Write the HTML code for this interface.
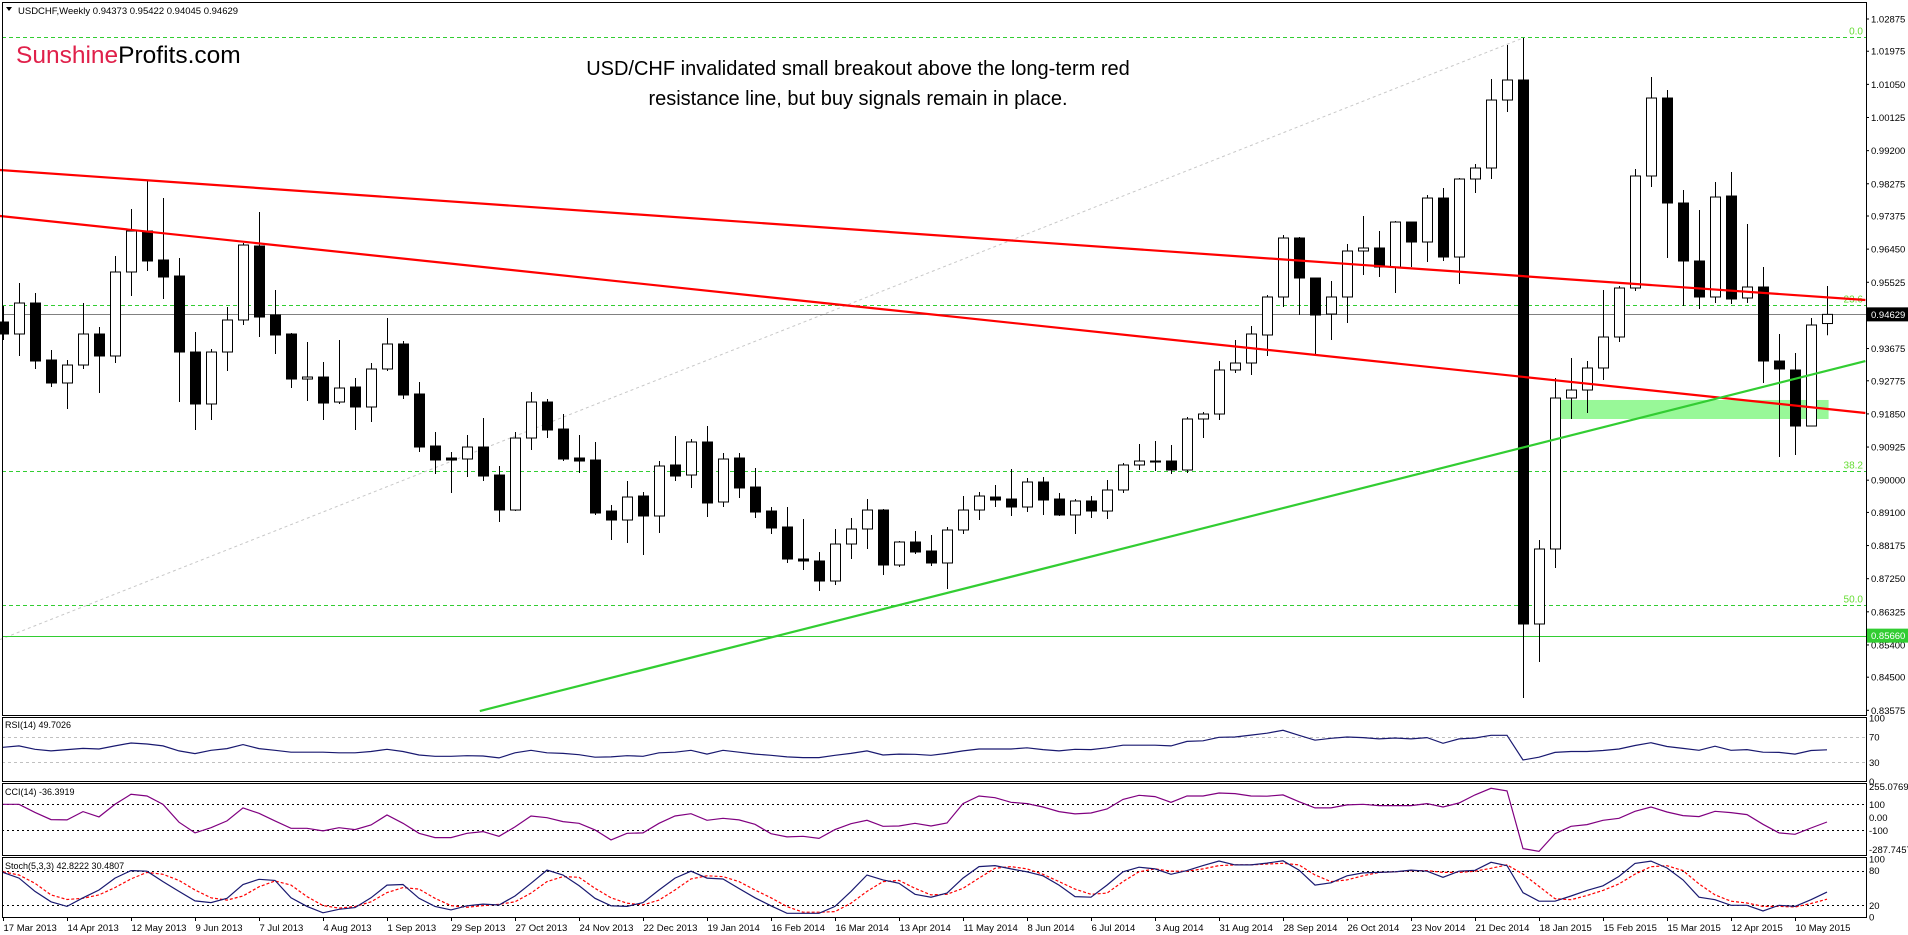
<!DOCTYPE html>
<html><head><meta charset="utf-8"><title>USDCHF Weekly</title>
<style>
html,body{margin:0;padding:0;background:#fff;}
svg{display:block;font-family:"Liberation Sans",Arial,sans-serif;}
</style></head>
<body>
<svg id="chart" width="1908" height="935" viewBox="0 0 1908 935" xmlns="http://www.w3.org/2000/svg">
  <rect x="0" y="0" width="1908" height="935" fill="#fff"/>
  <g id="gBack"></g>
  <g id="gCandles"></g>
  <g id="gFront"></g>
  <g id="gInd"></g>
  <g id="gAxes"></g>
  <text x="18" y="14" font-size="9.5" fill="#000">USDCHF,Weekly  0.94373 0.95422 0.94045 0.94629</text>
  <polygon points="6,7 12,7 9,11" fill="#000"/>
  <text x="16" y="63" font-size="24.5"><tspan fill="#e0204a">Sunshine</tspan><tspan fill="#000">Profits.com</tspan></text>
  <text x="858" y="75" font-size="20" text-anchor="middle" fill="#000">USD/CHF invalidated small breakout above the long-term red</text>
  <text x="858" y="105" font-size="20" text-anchor="middle" fill="#000">resistance line, but buy signals remain in place.</text>
</svg>
<script>
// ---- data ----
const opens = [0.94416,0.94081,0.94946,0.93355,0.92713,0.93215,0.94081,0.93467,0.95812,0.96956,0.96147,0.95700,0.93578,0.92127,0.93578,0.94472,0.96537,0.94611,0.94081,0.92824,0.92880,0.92182,0.92601,0.92043,0.93104,0.93802,0.92406,0.90954,0.90619,0.90591,0.90926,0.90144,0.89167,0.91177,0.92182,0.91428,0.90619,0.90563,0.89139,0.88888,0.89558,0.89000,0.90424,0.90144,0.91066,0.89391,0.90619,0.89809,0.89139,0.88693,0.87799,0.87744,0.87185,0.88218,0.88637,0.89167,0.87632,0.88274,0.88023,0.87688,0.88609,0.89167,0.89530,0.89474,0.89251,0.89949,0.89474,0.89028,0.89419,0.89139,0.89726,0.90424,0.90535,0.90535,0.90284,0.91708,0.91847,0.93076,0.93271,0.94053,0.95114,0.96761,0.95644,0.94639,0.95114,0.96398,0.96482,0.95951,0.97207,0.96649,0.97877,0.96230,0.98408,0.98715,1.00613,1.01172,0.85985,0.88079,0.92294,0.92517,0.93132,0.93997,0.95365,0.98492,1.00669,0.97738,0.96119,0.95114,0.97933,0.95086,0.95393,0.93327,0.93076,0.91512,0.94373];
const highs = [0.94862,0.95504,0.95225,0.93634,0.93355,0.94946,0.94276,0.96258,0.97570,0.98380,0.97877,0.96202,0.94137,0.93662,0.94834,0.96621,0.97487,0.95309,0.94109,0.93857,0.93299,0.93913,0.92852,0.93271,0.94527,0.93885,0.92741,0.91345,0.90786,0.91261,0.91736,0.90396,0.91345,0.92462,0.92266,0.91847,0.91261,0.91066,0.89307,0.89977,0.89670,0.90535,0.91233,0.91149,0.91512,0.90759,0.90759,0.90340,0.89251,0.89251,0.88916,0.87995,0.88637,0.88944,0.89474,0.89195,0.88302,0.88581,0.88469,0.88693,0.89558,0.89670,0.89865,0.90312,0.90061,0.90089,0.89642,0.89474,0.89558,0.90005,0.90479,0.91010,0.91094,0.90982,0.91764,0.91903,0.93327,0.93913,0.94304,0.95169,0.96845,0.96789,0.95644,0.95560,0.96593,0.97375,0.96956,0.97235,0.97207,0.97961,0.98157,0.98436,0.98827,1.01200,1.02149,1.02344,0.88330,0.92852,0.93411,0.93327,0.95309,0.95421,0.98687,1.01255,1.00892,0.98101,0.97542,0.98324,0.98603,0.97152,0.95951,0.94081,0.93550,0.94527,0.95422];
const lows = [0.93913,0.93467,0.93104,0.92601,0.91987,0.93104,0.92434,0.93271,0.95142,0.95839,0.95058,0.92182,0.91401,0.91680,0.93048,0.94332,0.93997,0.93522,0.92573,0.92210,0.91680,0.92127,0.91401,0.91624,0.93048,0.92266,0.90786,0.90172,0.89642,0.90089,0.89977,0.88832,0.89139,0.90842,0.91177,0.90535,0.90200,0.89028,0.88330,0.88246,0.87911,0.88525,0.89977,0.89782,0.88972,0.89251,0.89502,0.88944,0.88497,0.87688,0.87492,0.86906,0.87074,0.87799,0.88079,0.87353,0.87576,0.87939,0.87604,0.86962,0.88497,0.88888,0.89251,0.89000,0.89111,0.89028,0.89000,0.88497,0.88944,0.88916,0.89642,0.90284,0.90256,0.90172,0.90200,0.91177,0.91680,0.92992,0.92936,0.93467,0.94834,0.94611,0.93522,0.93913,0.94388,0.95728,0.95672,0.95225,0.95951,0.96091,0.96119,0.95477,0.98017,0.98408,1.00278,0.83919,0.84924,0.87548,0.91708,0.91875,0.92797,0.93857,0.95281,0.98185,0.96202,0.94862,0.94779,0.94946,0.94918,0.94946,0.92713,0.90647,0.90703,0.91512,0.94045];
const closes = [0.94081,0.94946,0.93327,0.92713,0.93215,0.94081,0.93467,0.95812,0.96956,0.96119,0.95672,0.93578,0.92127,0.93578,0.94472,0.96565,0.94555,0.94053,0.92824,0.92880,0.92154,0.92573,0.92043,0.93104,0.93802,0.92378,0.90926,0.90563,0.90563,0.90926,0.90116,0.89167,0.91177,0.92182,0.91401,0.90591,0.90535,0.89084,0.88888,0.89530,0.89000,0.90396,0.90116,0.91066,0.89363,0.90591,0.89782,0.89111,0.88665,0.87799,0.87744,0.87185,0.88218,0.88637,0.89167,0.87632,0.88274,0.87995,0.87688,0.88609,0.89167,0.89558,0.89446,0.89251,0.89949,0.89446,0.89028,0.89419,0.89139,0.89726,0.90424,0.90535,0.90507,0.90284,0.91708,0.91847,0.93076,0.93271,0.94081,0.95114,0.96761,0.95644,0.94611,0.95114,0.96398,0.96482,0.95951,0.97207,0.96649,0.97877,0.96230,0.98408,0.98715,1.00613,1.01172,0.85985,0.88079,0.92294,0.92517,0.93132,0.93997,0.95365,0.98492,1.00669,0.97738,0.96119,0.95114,0.97905,0.95058,0.95393,0.93327,0.93104,0.91512,0.94332,0.94629];
const rsiValues = [53.7,56,50.5,48,50,52,51,56,60.5,59,56,48,43.7,49,51.6,58,51.6,49,46,46,46,45,45,47,50.5,47,41.6,39.5,39.5,40.5,40,37,45,49,45,44,42,38,38.5,40.5,39.5,45,46,49,43,49,46,43,41,38.5,37.4,37.4,41,44,48,41.6,43,42.6,41,44,48,51,51,51,53,50,48,50.5,50,53,57,57,57,56,63,64,69.5,70,73,76,80.5,72.6,65,68,70,69,67,68.4,67,69,60,67,68.4,72.6,72.6,33.6,38,45.6,47,47,48.7,51,56.5,61,55,52,49,55.5,49,50,46,45.6,43,48.7,49.7];
const cciValues = [100,100,38,-18,-20,44,3,100,177,164,100,-38,-120,-80,-28,72,31,-28,-85,-85,-105,-80,-95,-59,18,-46,-123,-156,-156,-123,-110,-146,-74,10,-3,-33,-46,-97,-174,-123,-120,-46,10,28,-23,-8,-20,-54,-126,-151,-146,-162,-95,-49,-23,-69,-67,-46,-67,-44,105,164,151,115,105,79,44,26,33,64,138,169,159,115,164,164,187,182,164,162,172,120,72,72,95,100,90,90,90,105,79,110,172,223,203,-241,-262,-126,-69,-56,-23,-8,46,79,41,13,5,46,36,21,-54,-120,-131,-82,-36.4];
const stochMain = [77,67,44,26,18,33,46.5,67,80,79,61,44,27.5,24.6,32,56,65,63,33,18,7,13,16,33,55,56,32,18,12,19,22,20.5,36,58,81,72.5,54,32,19,18,24.6,46.5,67,79,67,65.5,49,33,19,6,6,6,18,44,72.5,64,58,39,34,41,67,87,88.7,83,78,71,55,35,34,55,78,86,83,73.7,80,88.7,96.7,90,90,93,97,81,55,59,71,76,77,78,81,79,68.5,79,80.6,94.4,88.7,41.7,27,27,36,45.7,53.7,70,92.6,96.6,84.6,64,34,29.7,20,20,10,20,18,29.7,42.8];
const stochSignal = [78,72.5,58,38,30,32,38,50.6,65.6,77,73.7,63,46.5,33,29,36,52,62,55,35,19.4,15,17.7,26,42,50.6,48,32,19.4,16.5,19.4,21.7,26,41,61,69.6,68.5,49.4,33,23.5,20.6,29,46.5,65.6,71,69.6,61,46.5,33,17.7,8,8,9,23.5,44,61,63,49.4,38,39,49.4,67,84,87,83,73.7,61,48,39,41,61,78,83,79,79,83,88.7,90,90,91.5,92.7,90,72.5,61,64,71,77,78,80,80,77,77,79,84,90,74,52.6,31.4,29.7,37,45.7,57,74,86.9,88.6,80,57,38,27,24,18,18,17,23,30.5];
const dateLabels = ["17 Mar 2013","14 Apr 2013","12 May 2013","9 Jun 2013","7 Jul 2013","4 Aug 2013","1 Sep 2013","29 Sep 2013","27 Oct 2013","24 Nov 2013","22 Dec 2013","19 Jan 2014","16 Feb 2014","16 Mar 2014","13 Apr 2014","11 May 2014","8 Jun 2014","6 Jul 2014","3 Aug 2014","31 Aug 2014","28 Sep 2014","26 Oct 2014","23 Nov 2014","21 Dec 2014","18 Jan 2015","15 Feb 2015","15 Mar 2015","12 Apr 2015","10 May 2015"];
const priceTicks = [1.02875,1.01975,1.01050,1.00125,0.99200,0.98275,0.97375,0.96450,0.95525,0.94600,0.93675,0.92775,0.91850,0.90925,0.90000,0.89100,0.88175,0.87250,0.86325,0.85400,0.84500,0.83575];
const fibLevels = [0.0,23.6,38.2,50.0];
const fibHigh = 1.02372, fibLow = 0.70658;
const lastPrice = 0.94629, supportPrice = 0.85660;
const upperRed = [[-0.19,0.98659],[116.4,0.95030]];
const lowerRed = [[-0.19,0.97375],[116.4,0.91875]];
const greenTrend = [[29.8,0.83556],[116.4,0.93327]];
const fibBase = [[-0.19,0.85550],[95,1.02344]];
const supportZone = [97.1,114.1,0.92239,0.91708];
const rsiTicks=[100,70,30,0], cciTicks=[255.0769,100,0,-100,-287.7457], stochTicks=[100,80,20,0];
const cciTickText=["255.0769","100","0.00","-100","-287.7457"];

// ---- axes ----
const NS="http://www.w3.org/2000/svg";
const PL=2, PR=1866;
const xOf=i=>3+16*i;
const yP=p=>19+(1.02875-p)*3582;
const yR=v=>781.3-v*0.633;
const yC=v=>817.3-v*0.13;
const yS=v=>916.8-v*0.577;
function mk(tag,attrs,parent){const e=document.createElementNS(NS,tag);for(const k in attrs)e.setAttribute(k,attrs[k]);parent.appendChild(e);return e;}
const gB=document.getElementById('gBack'),gC=document.getElementById('gCandles'),gF=document.getElementById('gFront'),gI=document.getElementById('gInd'),gA=document.getElementById('gAxes');

// support zone
let z=mk('rect',{x:xOf(supportZone[0]),y:yP(supportZone[2]),width:xOf(supportZone[1])-xOf(supportZone[0]),height:yP(supportZone[3])-yP(supportZone[2]),fill:'#98f898'},gB);


// fib lines
fibLevels.forEach(l=>{const p=fibHigh-(fibHigh-fibLow)*l/100;const y=Math.round(yP(p))+0.5;
 let ln=mk('line',{x1:PL,x2:PR,y1:y,y2:y,stroke:'#32cd32','stroke-dasharray':'4,3','stroke-width':1},gB);
 
 
 let t=mk('text',{x:1863,y:y-3,'text-anchor':'end','font-size':10,fill:'#66dd33'},gB);t.textContent=l.toFixed(1);
 
 });
// fib base dotted
let fb=mk('line',{x1:xOf(fibBase[0][0]),y1:yP(fibBase[0][1]),x2:xOf(fibBase[1][0]),y2:yP(fibBase[1][1]),stroke:'#c8c8c8','stroke-dasharray':'3,3','stroke-width':1},gB);


// last price and support lines
let lp=mk('line',{x1:PL,x2:PR,y1:Math.round(yP(lastPrice))+0.5,y2:Math.round(yP(lastPrice))+0.5,stroke:'#808080','stroke-width':1},gB);


let sp=mk('line',{x1:PL,x2:PR,y1:Math.round(yP(supportPrice))+0.5,y2:Math.round(yP(supportPrice))+0.5,stroke:'#32cd32','stroke-width':1},gB);



// candles
for(let i=0;i<opens.length;i++){
 const x=xOf(i)+0.5, o=opens[i],c=closes[i];
 const g=mk('g',{},gC);
 
 
 mk('line',{x1:x,x2:x,y1:yP(highs[i]),y2:yP(lows[i]),stroke:'#000','stroke-width':1},g);
 const top=Math.min(yP(o),yP(c)),h=Math.max(1,Math.abs(yP(o)-yP(c)));
 mk('rect',{x:x-5,y:top,width:10,height:h,fill:c>=o?'#fff':'#000',stroke:'#000','stroke-width':1},g);
}
// trendlines
[[upperRed,'#ff0000','upper-red-resistance-line'],[lowerRed,'#ff0000','lower-red-resistance-line'],[greenTrend,'#32cd32','green-support-line']].forEach(d=>{
 let l=mk('line',{x1:xOf(d[0][0][0]),y1:yP(d[0][0][1]),x2:xOf(d[0][1][0]),y2:yP(d[0][1][1]),stroke:d[1],'stroke-width':2.2},gF);
 
 
});

// indicators
function poly(vals,fy,color,dash,name){
 const pts=vals.map((v,i)=>xOf(i)+','+fy(v).toFixed(1)).join(' ');
 const p=mk('polyline',{points:pts,fill:'none',stroke:color,'stroke-width':1.2},gI);
 if(dash)p.setAttribute('stroke-dasharray',dash);
 
 
}
function hl(y,color,dash,name){const l=mk('line',{x1:PL,x2:PR,y1:Math.round(y)+0.5,y2:Math.round(y)+0.5,stroke:color,'stroke-dasharray':dash,'stroke-width':1},gI);
 
 }
hl(yR(70),'#c0c0c0','3,3','rsi-level-70');hl(yR(30),'#c0c0c0','3,3','rsi-level-30');
hl(yC(100),'#000','2,3','cci-level-100');hl(yC(-100),'#000','2,3','cci-level-minus-100');
hl(yS(80),'#000','2,3','stoch-level-80');hl(yS(20),'#000','2,3','stoch-level-20');
poly(rsiValues,yR,'#191970',null,'rsi-line');
poly(cciValues,yC,'#800080',null,'cci-line');
poly(stochSignal,yS,'#ff0000','3,2','stoch-signal-line');
poly(stochMain,yS,'#191970',null,'stoch-main-line');

// panel frames
[[2,715],[717,781],[783,855],[857,917]].forEach((r,k)=>{
 let f=mk('rect',{x:PL+0.5,y:r[0]+0.5,width:PR-PL,height:r[1]-r[0],fill:'none',stroke:'#000','stroke-width':1},gA);
 
 
});
// indicator titles
[['RSI(14) 49.7026',728,'rsi-title'],['CCI(14) -36.3919',795,'cci-title'],['Stoch(5,3,3) 42.8222 30.4807',869,'stoch-title']].forEach(t=>{
 let e=mk('text',{x:5,y:t[1],'font-size':9,fill:'#000'},gA);e.textContent=t[0];
 
 });
// price axis
priceTicks.forEach(p=>{const y=yP(p);
 mk('line',{x1:PR,x2:PR+3,y1:y,y2:y,stroke:'#000'},gA);
 let t=mk('text',{x:1871,y:y+3.5,'font-size':9.5,fill:'#000'},gA);t.textContent=p.toFixed(5);
 
 });
function tag(p,bg,name){const y=yP(p);
 let r=mk('rect',{x:1867,y:y-7,width:41,height:14,fill:bg},gA);
 
 
 let t=mk('text',{x:1871,y:y+3.5,'font-size':9.5,fill:'#fff'},gA);t.textContent=p.toFixed(5);
 
 }
tag(supportPrice,'#32cd32','support-price-tag');
tag(lastPrice,'#000','last-price-tag');
// indicator axes
rsiTicks.forEach(v=>{let t=mk('text',{x:1869,y:yR(v)+3.5,'font-size':9.5,fill:'#000'},gA);t.textContent=String(v);
 
 });
cciTicks.forEach((v,k)=>{let t=mk('text',{x:1869,y:Math.min(853,Math.max(790,yC(v)+3.5)),'font-size':9.5,fill:'#000'},gA);t.textContent=cciTickText[k];
 
 });
stochTicks.forEach(v=>{let t=mk('text',{x:1869,y:yS(v)+3.5,'font-size':9.5,fill:'#000'},gA);t.textContent=String(v);
 
 });
// date axis
dateLabels.forEach((d,k)=>{const x=xOf(k*4)+0.5;
 mk('line',{x1:x,x2:x,y1:917,y2:921,stroke:'#000'},gA);
 let t=mk('text',{x:x,y:931,'font-size':9.5,fill:'#000'},gA);t.textContent=d;
 
 });
</script>
</body></html>
